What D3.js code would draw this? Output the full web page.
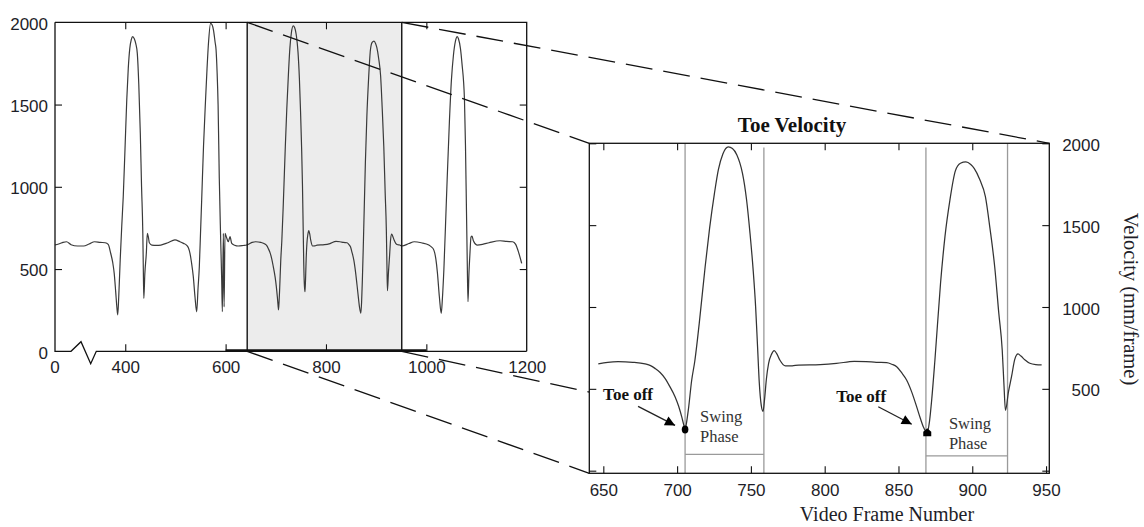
<!DOCTYPE html>
<html>
<head>
<meta charset="utf-8">
<script src="https://cdn.jsdelivr.net/npm/d3@7"></script>
<style>
  body { margin: 0; background: #fff; }
  svg { display: block; }
</style>
</head>
<body>
<svg id="chart" width="1144" height="527"></svg>
<script>
// Toe velocity trace (video frame number, mm/frame)
const frames = [
  260, 270, 276, 283, 292, 305, 317, 328, 339, 350, 360, 366, 371, 375, 378, 381, 383.5, 385, 387, 390,
  393, 396, 399.5, 403, 406, 409, 412, 415, 418, 421, 424, 427, 430, 432.5, 435, 436, 437, 439, 442, 444,
  446, 448, 453, 462, 471, 485, 499, 509, 516, 522, 526, 529, 532, 535.6, 539, 542.4, 545, 547.6, 550, 552.3,
  556, 560, 563, 566, 570, 573, 576, 579, 581, 583, 585, 587.4, 590, 592.2, 593.5, 595.5, 597, 598.8, 602, 605.4,
  608.8, 612.2, 618, 625, 635, 642, 646.6, 653, 660, 670, 678.3, 682, 685, 688.5, 691.8, 695, 698.6, 701, 703.1, 704.5,
  705.4, 706.5, 707.6, 709.9, 712, 715, 719, 722, 725.3, 728, 731, 734.7, 737.5, 740.5, 742.5, 744.3, 747, 749.4, 751.5, 753.2,
  754.5, 755.7, 757, 758.2, 759.3, 760.5, 762, 764, 765.8, 767.5, 769.6, 773.4, 778, 782.3, 797, 808, 820, 828, 835, 842,
  845.5, 848.8, 852, 855.5, 859, 862.3, 864.8, 866.8, 869.5, 871, 872.5, 874.7, 878.5, 881.5, 884.8, 888.6, 892, 895.7, 899, 901.3,
  905, 908.9, 912, 915.2, 918, 920.3, 921.5, 922.5, 924.5, 926.6, 928.8, 931, 933, 935.8, 939, 943, 947, 951.4, 965, 976,
  990, 1005, 1010, 1015, 1019, 1022, 1026, 1029.7, 1032, 1035, 1040, 1046, 1050, 1054, 1058, 1061.6, 1064, 1068, 1071, 1076,
  1078, 1080, 1081.5, 1083, 1085, 1087, 1089, 1091, 1094, 1101, 1112, 1125, 1147, 1160, 1172, 1178, 1184, 1190
];
const velocity = [
  646, 655, 662, 666, 648, 640, 640, 652, 666, 662, 660, 650, 596, 540, 474, 360, 260, 222, 330, 560,
  760, 940, 1230, 1528, 1720, 1840, 1895, 1913, 1900, 1870, 1811, 1620, 1325, 1000, 717, 500, 322, 470, 596, 717,
  695, 660, 646, 644, 646, 660, 677, 666, 656, 646, 628, 596, 540, 454, 330, 240, 380, 514, 720, 920,
  1250, 1528, 1720, 1880, 1994, 1985, 1950, 1880, 1832, 1700, 1500, 1050, 700, 433, 241, 717, 270, 717, 690, 666,
  697, 656, 645, 640, 643, 646, 652, 662, 666, 662, 652, 642, 625, 600, 564, 515, 452, 395, 330, 280,
  252, 300, 371, 554, 670, 900, 1246, 1480, 1694, 1840, 1935, 1978, 1968, 1929, 1880, 1817, 1660, 1450, 1230, 1002,
  760, 534, 400, 362, 440, 560, 656, 712, 733, 715, 676, 640, 641, 645, 648, 655, 668, 666, 662, 660,
  650, 635, 600, 554, 480, 391, 320, 269, 232, 300, 432, 676, 1145, 1430, 1650, 1833, 1878, 1886, 1870, 1847,
  1780, 1674, 1480, 1246, 960, 737, 520, 368, 480, 574, 680, 713, 700, 676, 656, 648, 646, 640, 655, 666,
  660, 646, 635, 615, 560, 480, 330, 231, 320, 500, 920, 1400, 1650, 1800, 1885, 1913, 1900, 1840, 1750, 1528,
  1250, 850, 550, 302, 480, 600, 695, 700, 670, 646, 650, 660, 672, 668, 666, 650, 600, 535
];

// Overview axis: the frame axis is broken, its first label stands for 0
const overviewDomain = [260, 1200];
const overviewTicks = [400, 600, 800, 1000, 1200];
const overviewBreakLabel = "0";
const velocityTicks = [0, 500, 1000, 1500, 2000];
const highlightWindow = [643, 951];
const thickBaseline = [600, 1000];

// Detail view
const detailDomain = [640.5, 952.2];
const detailVelocityDomain = [-16, 2000];
const detailWindow = [646, 947];
const detailTicks = [650, 700, 750, 800, 850, 900, 950];
const detailYTicks = [0, 500, 1000, 1500, 2000];
const detailYLabels = ["", "500", "1000", "1500", "2000"];

// Gait events
const toeOffFrames = [705.4, 869.5];
const toeOffValues = [252, 232];
const swingStart = [705.4, 868.6];
const swingEnd = [758.8, 923.9];
const swingStartTop = [2000, 1975];
const swingEndTop = [1975, 2000];
const swingBarValues = [100, 90];

const chartTitle = "Toe Velocity";
const xTitle = "Video Frame Number";
const yTitle = "Velocity (mm/frame)";

const data = frames.map((f, i) => ({ f, v: velocity[i] }));
const plain = d3.format("d");

const svg = d3.select("#chart");
const SANS = "'Liberation Sans', Arial, sans-serif";
const SERIF = "'Liberation Serif', 'Times New Roman', serif";
const TXT = "#1e1e28";
const TICK = 7;

svg.append("rect").attr("width", 1144).attr("height", 527).attr("fill", "#fff");

// ---------- overview panel ----------
const xL = d3.scaleLinear().domain(overviewDomain).range([55, 526.7]);
const yL = d3.scaleLinear().domain([0, 2000]).range([351.3, 22.3]);
const [L0, L1] = xL.range();
const [B0, T0] = yL.range();

const ov = svg.append("g");

ov.append("rect")
  .attr("x", xL(highlightWindow[0])).attr("y", T0)
  .attr("width", xL(highlightWindow[1]) - xL(highlightWindow[0]))
  .attr("height", B0 - T0)
  .attr("fill", "#ececec");

const lineL = d3.line().x(d => xL(d.f)).y(d => yL(d.v)).curve(d3.curveMonotoneX);
ov.append("path").datum(data)
  .attr("d", lineL)
  .attr("fill", "none").attr("stroke", "#3a3a3a").attr("stroke-width", 1.2);

// highlight borders
highlightWindow.forEach(f => {
  ov.append("line").attr("x1", xL(f)).attr("x2", xL(f)).attr("y1", T0).attr("y2", B0)
    .attr("stroke", "#111").attr("stroke-width", 1.4);
});

// axes with inward ticks
const axB = ov.append("g").attr("transform", `translate(0,${B0})`)
  .call(d3.axisBottom(xL).tickValues(overviewTicks).tickFormat(plain)
    .tickSizeInner(-TICK).tickSizeOuter(0).tickPadding(10));
const axT = ov.append("g").attr("transform", `translate(0,${T0})`)
  .call(d3.axisTop(xL).tickValues(overviewTicks).tickSizeInner(-TICK).tickSizeOuter(0).tickFormat(""));
const axLft = ov.append("g").attr("transform", `translate(${L0},0)`)
  .call(d3.axisLeft(yL).tickValues(velocityTicks).tickFormat(plain)
    .tickSizeInner(-TICK).tickSizeOuter(0).tickPadding(7));
const axRgt = ov.append("g").attr("transform", `translate(${L1},0)`)
  .call(d3.axisRight(yL).tickValues(velocityTicks).tickSizeInner(-TICK).tickSizeOuter(0).tickFormat(""));
[axB, axT, axLft, axRgt].forEach(a => {
  a.select(".domain").remove();
  a.selectAll(".tick line").attr("stroke", "#111").attr("stroke-width", 1.1);
  a.selectAll("text").attr("font-family", SANS).attr("font-size", 17).attr("fill", TXT);
});
axLft.selectAll("text").attr("dy", "0.4em");
axB.selectAll(".tick").filter(d => d === overviewDomain[1]).select("line").remove();
axT.selectAll(".tick").filter(d => d === overviewDomain[1]).select("line").remove();
axLft.selectAll(".tick").filter(d => d === 0 || d === 2000).select("line").remove();
axRgt.selectAll(".tick").filter(d => d === 0 || d === 2000).select("line").remove();

// break label at the start of the frame axis
ov.append("text")
  .attr("x", L0).attr("y", B0 + 22).attr("text-anchor", "middle")
  .attr("font-family", SANS).attr("font-size", 17).attr("fill", TXT)
  .text(overviewBreakLabel);

// frame of the overview with the axis break on the baseline
const brk = [L0 + 16, L0 + 26, L0 + 35.7, L0 + 41.3];
ov.append("path")
  .attr("d", `M${L0},${T0}H${L1}V${B0}` +
             `M${L0},${T0}V${B0}H${brk[0]}L${brk[1]},${B0 - 9.6}L${brk[2]},${B0 + 12.4}L${brk[3]},${B0}H${L1}`)
  .attr("fill", "none").attr("stroke", "#111").attr("stroke-width", 1.3);
ov.append("line")
  .attr("x1", xL(thickBaseline[0])).attr("x2", xL(thickBaseline[1]))
  .attr("y1", B0 - 0.8).attr("y2", B0 - 0.8)
  .attr("stroke", "#111").attr("stroke-width", 2.4);

// ---------- detail panel scales ----------
const xR = d3.scaleLinear().domain(detailDomain).range([589.3, 1049.3]);
const yR = d3.scaleLinear().domain(detailVelocityDomain).range([473.3, 143.3]);
const [R0, R1] = xR.range();
const [RB, RT] = yR.range();

// ---------- connector lines ----------
const connectors = [
  [[xL(highlightWindow[0]), T0], [R0, RT]],
  [[xL(highlightWindow[1]), T0], [R1, RT]],
  [[xL(highlightWindow[0]), B0], [R0, RB]],
  [[xL(highlightWindow[1]), B0], [R0, yR(480)]]
];
svg.append("g").selectAll("line").data(connectors).join("line")
  .attr("x1", d => d[0][0]).attr("y1", d => d[0][1])
  .attr("x2", d => d[1][0]).attr("y2", d => d[1][1])
  .attr("stroke", "#111").attr("stroke-width", 1.3)
  .attr("stroke-dasharray", "27 11");

// ---------- detail panel ----------
const dt = svg.append("g");
dt.append("rect").attr("x", R0).attr("y", RT).attr("width", R1 - R0).attr("height", RB - RT).attr("fill", "#fff");

// swing phase markers
swingStart.forEach((s, i) => {
  const e = swingEnd[i];
  dt.append("line").attr("x1", xR(s)).attr("x2", xR(s)).attr("y1", yR(swingStartTop[i])).attr("y2", RB)
    .attr("stroke", "#9a9a9a").attr("stroke-width", 1.3);
  dt.append("line").attr("x1", xR(e)).attr("x2", xR(e)).attr("y1", yR(swingEndTop[i])).attr("y2", RB)
    .attr("stroke", "#9a9a9a").attr("stroke-width", 1.3);
  dt.append("line").attr("x1", xR(s)).attr("x2", xR(e)).attr("y1", yR(swingBarValues[i])).attr("y2", yR(swingBarValues[i]))
    .attr("stroke", "#9a9a9a").attr("stroke-width", 1.3);
});

const detailData = data.filter(d => d.f >= detailWindow[0] && d.f <= detailWindow[1]);
const lineR = d3.line().x(d => xR(d.f)).y(d => yR(d.v)).curve(d3.curveMonotoneX);
dt.append("path").datum(detailData)
  .attr("d", lineR)
  .attr("fill", "none").attr("stroke", "#333").attr("stroke-width", 1.25);

// axes of the detail panel
const dB = dt.append("g").attr("transform", `translate(0,${RB})`)
  .call(d3.axisBottom(xR).tickValues(detailTicks).tickFormat(plain)
    .tickSizeInner(-TICK).tickSizeOuter(0).tickPadding(11));
const dT = dt.append("g").attr("transform", `translate(0,${RT})`)
  .call(d3.axisTop(xR).tickValues(detailTicks).tickSizeInner(-TICK).tickSizeOuter(0).tickFormat(""));
const dL = dt.append("g").attr("transform", `translate(${R0},0)`)
  .call(d3.axisLeft(yR).tickValues(detailYTicks).tickSizeInner(-TICK).tickSizeOuter(0).tickFormat(""));
const dR = dt.append("g").attr("transform", `translate(${R1},0)`)
  .call(d3.axisRight(yR).tickValues(detailYTicks).tickSizeInner(-TICK).tickSizeOuter(0)
    .tickFormat((d, i) => detailYLabels[i]));
[dB, dT, dL, dR].forEach(a => {
  a.select(".domain").remove();
  a.selectAll(".tick line").attr("stroke", "#111").attr("stroke-width", 1.1);
  a.selectAll("text").attr("font-family", SANS).attr("font-size", 17).attr("fill", TXT);
});
dR.selectAll("text").attr("text-anchor", "end").attr("x", 1100 - R1).attr("dy", "0.42em");
dT.selectAll(".tick").filter(d => d === 950).select("line").remove();

dt.append("rect").attr("x", R0).attr("y", RT).attr("width", R1 - R0).attr("height", RB - RT)
  .attr("fill", "none").attr("stroke", "#111").attr("stroke-width", 1.3);

// titles
dt.append("text").attr("x", 792).attr("y", 131.5).attr("text-anchor", "middle")
  .attr("font-family", SERIF).attr("font-weight", "bold").attr("font-size", 21).attr("fill", "#111")
  .text(chartTitle);
dt.append("text").attr("x", 887).attr("y", 521).attr("text-anchor", "middle")
  .attr("font-family", SERIF).attr("font-size", 20).attr("fill", TXT)
  .text(xTitle);
dt.append("text").attr("transform", "translate(1124,299) rotate(90)").attr("text-anchor", "middle")
  .attr("font-family", SERIF).attr("font-size", 20.5).attr("fill", TXT)
  .text(yTitle);

// toe-off annotations
svg.append("defs").append("marker")
  .attr("id", "head").attr("viewBox", "0 0 10 10").attr("refX", 10).attr("refY", 5)
  .attr("markerUnits", "userSpaceOnUse").attr("markerWidth", 11).attr("markerHeight", 10)
  .attr("orient", "auto")
  .append("path").attr("d", "M0,0L10,5L0,10Z").attr("fill", "#000");

const noteLayout = [
  { textDx: -57, textDy: -29, tail: [-47, -23], tip: [-10, -4], swingDx: 15, swingDy: [-7, 12.5] },
  { textDx: -66, textDy: -31, tail: [-49, -26], tip: [-15.5, -8.5], swingDx: 23, swingDy: [-3.5, 16.5] }
];
toeOffFrames.forEach((f, i) => {
  const px = xR(f), py = yR(toeOffValues[i]);
  const L = noteLayout[i];
  dt.append("text").attr("x", px + L.textDx).attr("y", py + L.textDy).attr("text-anchor", "middle")
    .attr("font-family", SERIF).attr("font-weight", "bold").attr("font-size", 17).attr("fill", "#111")
    .text("Toe off");
  dt.append("line")
    .attr("x1", px + L.tail[0]).attr("y1", py + L.tail[1])
    .attr("x2", px + L.tip[0]).attr("y2", py + L.tip[1])
    .attr("stroke", "#222").attr("stroke-width", 1.3).attr("marker-end", "url(#head)");
  if (i === 0) {
    dt.append("ellipse").attr("cx", px).attr("cy", py).attr("rx", 3.3).attr("ry", 4).attr("fill", "#000");
  } else {
    dt.append("path").attr("transform", `translate(${px},${py})`)
      .attr("d", "M-4,3.5L-4,-1L0,-4.5L4,-1L4,3.5Z").attr("fill", "#000");
  }
  const sx = xR(swingStart[i]) + L.swingDx;
  dt.append("text").attr("x", sx).attr("y", py + L.swingDy[0])
    .attr("font-family", SERIF).attr("font-size", 16.5).attr("fill", "#333").text("Swing");
  dt.append("text").attr("x", sx).attr("y", py + L.swingDy[1])
    .attr("font-family", SERIF).attr("font-size", 16.5).attr("fill", "#333").text("Phase");
});
</script>
</body>
</html>
